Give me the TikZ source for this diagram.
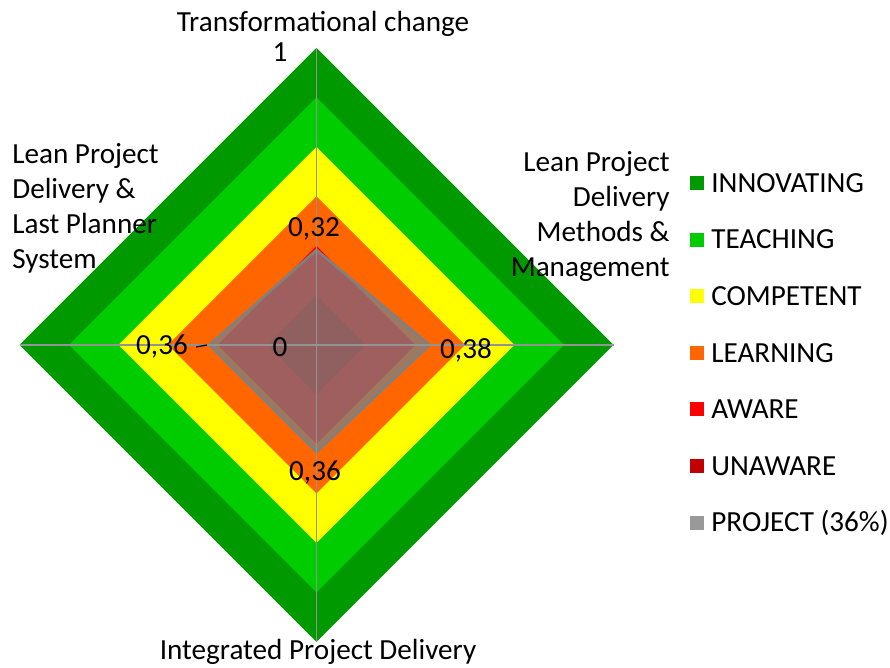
\documentclass[tikz,border=0pt]{standalone}
\usepackage{fontspec}
\setmainfont{Carlito}
\usetikzlibrary{positioning}
\definecolor{innovgreen}{RGB}{0,153,0}
\definecolor{teachgreen}{RGB}{0,204,0}
\definecolor{compyellow}{RGB}{255,255,0}
\definecolor{learnorange}{RGB}{255,102,0}
\definecolor{awarered}{RGB}{255,0,0}
\definecolor{unawarered}{RGB}{192,0,0}
\definecolor{projgrey}{RGB}{128,128,128}

\begin{document}
\begin{tikzpicture}[x=0.02cm, y=-0.02cm,
    every node/.style={font=\fontsize{16.6}{19.9}\selectfont, inner sep=0pt},
    axisline/.style={draw=projgrey!85, line width=0.6pt},
    legsq/.style={minimum size=0.28cm, inner sep=0pt}]
                \useasboundingbox (0,0) rectangle (890,668);

                % level diamonds, biggest first
                \foreach \r/\col in {297/innovgreen, 247.5/teachgreen, 198/compyellow, 148.5/learnorange, 99/awarered, 49.5/unawarered}
                    \fill[\col] (316.5,345-\r) -- (316.5+\r,345) -- (316.5,345+\r) -- (316.5-\r,345) -- cycle;

                \coordinate (c)       at (316.5, 345);
                \coordinate (aTop)    at (316.5, 48);
                \coordinate (aBottom) at (316.5, 642);
                \coordinate (aLeft)   at (19.5, 345);
                \coordinate (aRight)  at (613.5, 345);

                \coordinate (pTop)    at (316.5, 250);
                \coordinate (pRight)  at (429.5, 345);
                \coordinate (pBottom) at (316.5, 452);
                \coordinate (pLeft)   at (209.5, 345);

                \filldraw[fill=projgrey, fill opacity=0.75, draw=projgrey, line width=1.5pt]
                    (pTop) -- (pRight) -- (pBottom) -- (pLeft) -- cycle;

                \draw[axisline] (aTop) -- (aBottom);
                \draw[axisline] (aLeft) -- (aRight);

                % values
                \node (vTop)    at (314, 229) {0,32};
                \node (vLeft)   at (162, 347) {0,36};
                \node (vZero)   at (280, 347) {0};
                \node (vRight)  at (466, 350) {0,38};
                \node (vBottom) at (315, 473) {0,36};
                \node (vOne)    at (280, 52)  {1};
                \draw[line width=0.7pt] ([xshift=0.16cm]vLeft.east) -- ([xshift=-1.5pt]pLeft);

                % axis titles
                \node (tTop)    at (323, 24)  {Transformational change};
                \node[align=left, anchor=north west] (tLeft) at (12, 143)
                    {Lean Project\\Delivery \&\\Last Planner\\System};
                \node[align=right, anchor=north east] (tRight) at (670, 151)
                    {Lean Project\\Delivery\\Methods \&\\Management};
                \node (tBottom) at (318, 652) {Integrated Project Delivery};

                % legend
                \foreach \col/\txt [count=\k] in {innovgreen/INNOVATING, teachgreen/TEACHING, compyellow/COMPETENT, learnorange/LEARNING, awarered/AWARE, unawarered/UNAWARE, projgrey!80/PROJECT (36\%)} {
                    \pgfmathsetmacro{\yy}{183+(\k-1)*56.6}
                    \node[legsq, fill=\col] (sq\k) at (697, \yy) {};
                    \node[anchor=west] (lg\k) at (711, \yy) {\txt};
                }
            \end{tikzpicture}
\end{document}
